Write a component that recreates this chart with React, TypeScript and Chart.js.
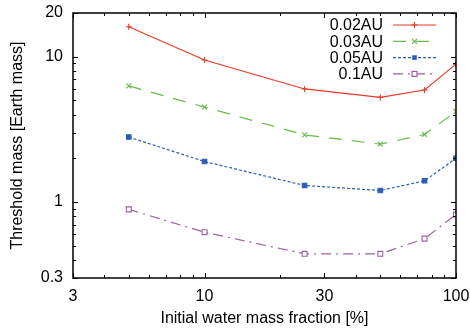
import React, { useEffect, useRef } from 'react';
import { Chart, registerables } from 'chart.js';

Chart.register(...registerables);

const xValues = [5, 10, 25, 50, 75, 100];
const mass002 = [16.1, 9.5, 6.0, 5.25, 5.9, 8.9];
const mass003 = [6.3, 4.5, 2.9, 2.5, 2.92, 4.2];
const mass005 = [2.8, 1.9, 1.3, 1.2, 1.4, 2.0];
const mass01 = [0.89, 0.62, 0.44, 0.44, 0.56, 0.82];

const seriesLabels = ['0.02AU', '0.03AU', '0.05AU', '0.1AU'];
const seriesColors = ['#e33b28', '#68bb4a', '#2b5eb4', '#9b62a0'];
const seriesDashes: number[][] = [[], [13, 10], [3, 2], [10, 5, 2, 5]];
const seriesPoints = ['cross', 'crossRot', 'rect', 'rect'];

const xMajorTicks = [3, 10, 30, 100];
const xMinorTicks = [4, 5, 6, 7, 8, 9, 20, 40, 50, 60, 70, 80, 90];
const yMajorTicks = [0.3, 1, 10, 20];
const yMinorTicks = [0.4, 0.5, 0.6, 0.7, 0.8, 0.9, 2, 3, 4, 5, 6, 7, 8, 9];

const xTitle = 'Initial water mass fraction [%]';
const yTitle = 'Threshold mass [Earth mass]';

const FONT = "'Liberation Sans', Arial, Helvetica, sans-serif";

function drawMarker(ctx: CanvasRenderingContext2D, idx: number, x: number, y: number) {
  const c = seriesColors[idx];
  ctx.save();
  ctx.setLineDash([]);
  ctx.strokeStyle = c;
  ctx.fillStyle = c;
  ctx.lineWidth = 1.2;
  if (idx === 0) {
    ctx.beginPath();
    ctx.moveTo(x - 3, y); ctx.lineTo(x + 3, y);
    ctx.moveTo(x, y - 3); ctx.lineTo(x, y + 3);
    ctx.stroke();
  } else if (idx === 1) {
    ctx.beginPath();
    ctx.moveTo(x - 2.5, y - 2.5); ctx.lineTo(x + 2.5, y + 2.5);
    ctx.moveTo(x - 2.5, y + 2.5); ctx.lineTo(x + 2.5, y - 2.5);
    ctx.stroke();
  } else if (idx === 2) {
    ctx.fillRect(x - 2.3, y - 2.3, 4.6, 4.6);
  } else {
    ctx.fillStyle = '#ffffff';
    ctx.fillRect(x - 2.5, y - 2.5, 5, 5);
    ctx.strokeRect(x - 2.5, y - 2.5, 5, 5);
  }
  ctx.restore();
}

const framePlugin = {
  id: 'frameTicksLegend',
  afterDraw(chart: any) {
    const ctx = chart.ctx as CanvasRenderingContext2D;
    const { left, right, top, bottom } = chart.chartArea;
    const xs = chart.scales.x;
    const ys = chart.scales.y;
    ctx.save();
    ctx.strokeStyle = '#000';
    ctx.lineWidth = 1;
    ctx.beginPath();
    const tick = (v: number, len: number, horiz: boolean) => {
      if (horiz) {
        const p = Math.round(xs.getPixelForValue(v)) + 0.5;
        ctx.moveTo(p, bottom); ctx.lineTo(p, bottom - len);
        ctx.moveTo(p, top); ctx.lineTo(p, top + len);
      } else {
        const p = Math.round(ys.getPixelForValue(v)) + 0.5;
        ctx.moveTo(left, p); ctx.lineTo(left + len, p);
        ctx.moveTo(right, p); ctx.lineTo(right - len, p);
      }
    };
    xMajorTicks.forEach((v) => tick(v, 5, true));
    xMinorTicks.forEach((v) => tick(v, 3, true));
    yMajorTicks.forEach((v) => tick(v, 5, false));
    yMinorTicks.forEach((v) => tick(v, 3, false));
    ctx.stroke();
    ctx.lineWidth = 1.5;
    ctx.strokeRect(left, top, right - left, bottom - top);

    // legend
    ctx.font = `16px ${FONT}`;
    ctx.textAlign = 'right';
    ctx.textBaseline = 'middle';
    const textRight = right - 73;
    const lineStart = right - 63;
    const lineEnd = right - 20;
    seriesLabels.forEach((lab, i) => {
      const y = top + 12 + i * 16.3;
      ctx.fillStyle = '#000';
      ctx.fillText(lab, textRight, y + 1);
      ctx.save();
      ctx.strokeStyle = seriesColors[i];
      ctx.lineWidth = 1.2;
      ctx.setLineDash(seriesDashes[i]);
      ctx.beginPath();
      ctx.moveTo(lineStart, y);
      ctx.lineTo(lineEnd, y);
      ctx.stroke();
      ctx.restore();
      drawMarker(ctx, i, (lineStart + lineEnd) / 2, y);
    });
    ctx.restore();
  },
};

export default function App() {
  const canvasRef = useRef<HTMLCanvasElement | null>(null);

  useEffect(() => {
    if (!canvasRef.current) return;
    const allSeries = [mass002, mass003, mass005, mass01];
    const datasets = allSeries.map((vals, i) => ({
      label: seriesLabels[i],
      data: xValues.map((x, j) => ({ x, y: vals[j] })),
      borderColor: seriesColors[i],
      backgroundColor: i === 3 ? 'rgba(255,255,255,1)' : seriesColors[i],
      borderWidth: 1.2,
      borderDash: seriesDashes[i],
      pointStyle: seriesPoints[i],
      pointRadius: i === 0 ? 3 : i === 1 ? 3.5 : i === 2 ? 3.2 : 3.5,
      pointBorderWidth: 1.1,
      pointBorderColor: seriesColors[i],
      pointBackgroundColor: i === 3 ? 'rgba(255,255,255,1)' : seriesColors[i],
      tension: 0,
      fill: false,
    }));

    const chart = new Chart(canvasRef.current, {
      type: 'line',
      data: { datasets },
      plugins: [framePlugin],
      options: {
        responsive: false,
        animation: false,
        devicePixelRatio: 1,
        layout: { padding: { left: 0, right: 14, top: 13, bottom: 0 } },
        plugins: { legend: { display: false }, tooltip: { enabled: false } },
        scales: {
          x: {
            type: 'logarithmic',
            min: 3,
            max: 100,
            grid: { display: false, drawTicks: false },
            border: { display: false },
            afterBuildTicks: (scale: any) => {
              scale.ticks = xMajorTicks.map((v) => ({ value: v }));
            },
            afterFit: (scale: any) => {
              scale.height = 53;
              scale.paddingLeft = 0;
              scale.paddingRight = 0;
            },
            ticks: {
              autoSkip: false,
              maxRotation: 0,
              padding: 9,
              color: '#000',
              font: { family: FONT, size: 16 },
              callback: (v: any) => String(v),
            },
            title: {
              display: true,
              text: xTitle,
              color: '#000',
              font: { family: FONT, size: 16 },
              padding: { top: 0, bottom: 3 },
            },
          },
          y: {
            type: 'logarithmic',
            min: 0.3,
            max: 20,
            grid: { display: false, drawTicks: false },
            border: { display: false },
            afterBuildTicks: (scale: any) => {
              scale.ticks = yMajorTicks.map((v) => ({ value: v }));
            },
            afterFit: (scale: any) => {
              scale.width = 73;
              scale.paddingTop = 0;
              scale.paddingBottom = 0;
            },
            ticks: {
              autoSkip: false,
              padding: 10,
              color: '#000',
              font: { family: FONT, size: 16 },
              callback: (v: any) => String(v),
            },
            title: {
              display: true,
              text: yTitle,
              color: '#000',
              font: { family: FONT, size: 16 },
              padding: { top: 8, bottom: 0 },
            },
          },
        },
      },
    });
    return () => chart.destroy();
  }, []);

  return (
    <div style={{ position: 'absolute', left: 0, top: 0, width: 470, height: 331, background: '#fff' }}>
      <canvas ref={canvasRef} width={470} height={331} />
    </div>
  );
}
